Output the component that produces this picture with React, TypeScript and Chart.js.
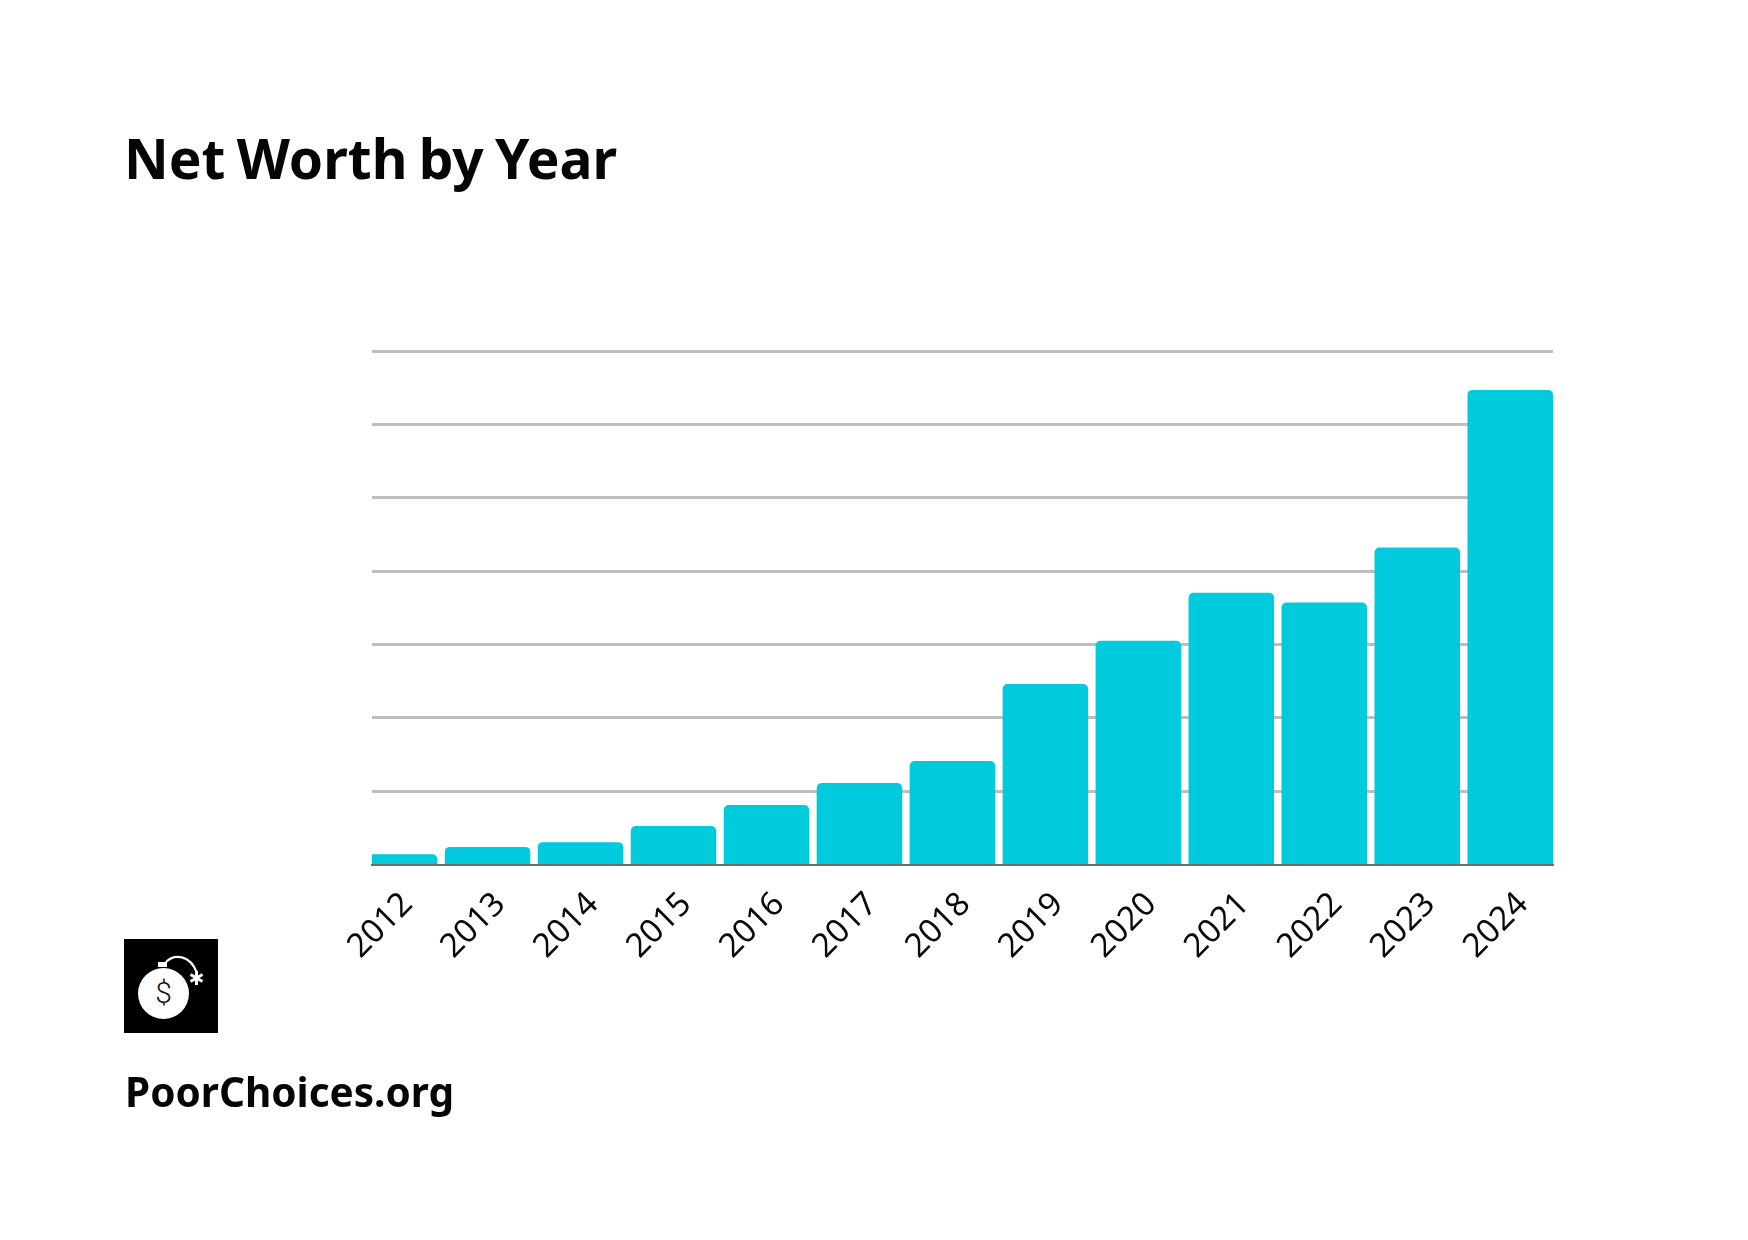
import React, { useEffect, useRef } from "react";
import { Chart, registerables } from "chart.js";

Chart.register(...registerables);

const years = [2012, 2013, 2014, 2015, 2016, 2017, 2018, 2019, 2020, 2021, 2022, 2023, 2024];
const netWorth = [1.4, 2.4, 3.05, 5.25, 8.1, 11.1, 14.1, 24.6, 30.5, 37.05, 35.7, 43.2, 64.7];
const gridMax = 70;
const gridStep = 10;
const titleText = "Net Worth by Year";
const footerText = "PoorChoices.org";

const FONT = '"Noto Sans", sans-serif';

export default function App() {
  const ref = useRef<HTMLCanvasElement>(null);
  useEffect(() => {
    document.body.style.margin = "0";
    document.body.style.background = "#ffffff";
    const chart = new Chart(ref.current!, {
      type: "bar",
      data: {
        datasets: [
          {
            label: "Net worth",
            data: years.map((y, i) => ({ x: y, y: netWorth[i] })),
            backgroundColor: "#00CBDD",
            borderWidth: 0,
            borderRadius: 5,
            borderSkipped: "bottom",
            barPercentage: 0.92,
            categoryPercentage: 1,
            base: -0.2,
            clip: { left: 0, right: 0, top: false, bottom: false },
          },
        ],
      },
      options: {
        responsive: false,
        animation: false,
        devicePixelRatio: 1,
        layout: { padding: { left: 372, right: 195, top: 351, bottom: 0 } },
        plugins: { legend: { display: false }, tooltip: { enabled: false } },
        scales: {
          x: {
            type: "linear",
            offset: false,
            min: 2011.757,
            max: 2024.46,
            grid: { display: false },
            border: { display: true, color: "#6E6E6E", width: 2, z: 1 },
            afterBuildTicks: (scale: any) => {
              scale.ticks = years.map((y) => ({ value: y + 0.137 }));
            },
            afterFit: (scale: any) => {
              scale.height = 375.5;
              scale.paddingLeft = 0;
              scale.paddingRight = 0;
            },
            ticks: {
              autoSkip: false,
              minRotation: 45,
              maxRotation: 45,
              padding: 12.5,
              color: "#0a0a0a",
              font: { family: FONT, size: 33 },
              callback: (v: any) => String(Math.floor(Number(v))),
            },
          },
          y: {
            min: 0,
            max: gridMax,
            afterFit: (scale: any) => {
              scale.width = 0;
            },
            border: { display: false },
            grid: {
              color: (ctx: any) => (ctx.tick.value === 0 ? "rgba(0,0,0,0)" : "#BEBEBE"),
              lineWidth: 3,
              drawTicks: false,
            },
            ticks: { display: false, stepSize: gridStep },
          },
        },
      },
    } as any);
    return () => chart.destroy();
  }, []);

  return (
    <div style={{ position: "relative", width: 1748, height: 1240, background: "#fff", overflow: "hidden" }}>
      <canvas ref={ref} width={1748} height={1240} style={{ position: "absolute", left: 0, top: 0 }} />
      <div
        style={{
          position: "absolute",
          left: 124,
          top: 118,
          font: `700 55px ${FONT}`,
          wordSpacing: "-3px",
          lineHeight: "80px",
          color: "#050505",
          whiteSpace: "nowrap",
        }}
      >
        {titleText}
      </div>
      <svg
        style={{ position: "absolute", left: 124, top: 939 }}
        width={94}
        height={94}
        viewBox="0 0 94 94"
      >
        <rect x={0} y={0} width={94} height={94} fill="#000" />
        <circle cx={39.5} cy={54.5} r={25.5} fill="#fff" />
        <rect x={34} y={23} width={9} height={5} fill="#fff" />
        <path d="M42 23 C50 15 66 15 73 34" fill="none" stroke="#fff" strokeWidth={2.2} />
        <path
          d="M72.5 32 L72.5 46 M66.5 35.5 L78.5 42.5 M78.5 35.5 L66.5 42.5"
          stroke="#fff"
          strokeWidth={3}
        />
        <text x={39.5} y={64} textAnchor="middle" fontFamily="Roboto, sans-serif" fontWeight={300} fontSize={30} fill="#111">
          $
        </text>
      </svg>
      <div
        style={{
          position: "absolute",
          left: 125,
          top: 1064,
          font: `700 40.5px ${FONT}`,
          lineHeight: "56px",
          color: "#050505",
          whiteSpace: "nowrap",
        }}
      >
        {footerText}
      </div>
    </div>
  );
}
